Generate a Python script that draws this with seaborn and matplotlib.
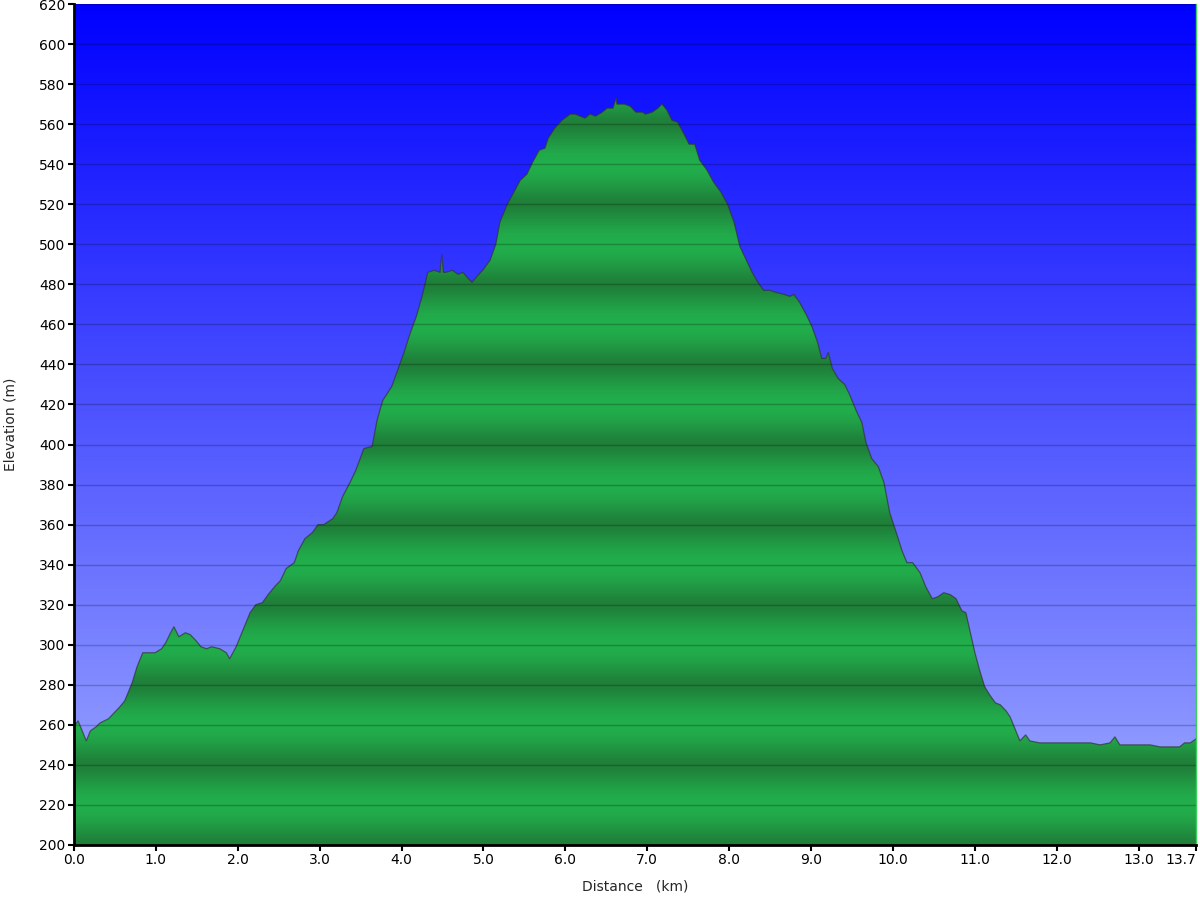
import numpy as np
import pandas as pd
import matplotlib
matplotlib.use("Agg")
import matplotlib.pyplot as plt
from matplotlib.colors import LinearSegmentedColormap
import seaborn as sns

# distance along the track (km) and elevation (m), read from the profile
distance = [0.00, 0.05, 0.15, 0.20, 0.27, 0.32, 0.42, 0.56, 0.62, 0.71, 0.77, 0.84, 0.93, 0.99,
            1.07, 1.12, 1.18, 1.22, 1.28, 1.36, 1.42, 1.49, 1.55, 1.62, 1.68, 1.78, 1.86, 1.90, 1.98,
            2.06, 2.15, 2.22, 2.30, 2.37, 2.45, 2.52, 2.59, 2.69, 2.74, 2.82, 2.91, 2.98,
            3.05, 3.16, 3.21, 3.28, 3.37, 3.44, 3.54, 3.64, 3.70, 3.77, 3.88, 3.96,
            4.03, 4.10, 4.18, 4.25, 4.32, 4.40, 4.47, 4.49, 4.51, 4.54, 4.62, 4.69, 4.75, 4.79, 4.86, 4.92, 4.99,
            5.08, 5.15, 5.20, 5.29, 5.37, 5.45, 5.53, 5.60, 5.68, 5.75, 5.79, 5.87, 5.96,
            6.06, 6.12, 6.18, 6.24, 6.30, 6.37, 6.45, 6.51, 6.58, 6.62, 6.63, 6.64, 6.72, 6.79, 6.86, 6.94, 6.98,
            7.06, 7.13, 7.18, 7.24, 7.30, 7.37, 7.45, 7.51, 7.58, 7.64, 7.73, 7.81, 7.90, 7.98,
            8.06, 8.13, 8.21, 8.28, 8.35, 8.42, 8.50, 8.57, 8.67, 8.74, 8.79, 8.86, 8.94,
            9.01, 9.08, 9.13, 9.18, 9.21, 9.26, 9.33, 9.41, 9.47, 9.55, 9.62, 9.67, 9.74, 9.82, 9.89, 9.96,
            10.04, 10.11, 10.17, 10.24, 10.33, 10.40, 10.48, 10.55, 10.62, 10.70, 10.77, 10.84, 10.89, 10.94,
            11.00, 11.06, 11.12, 11.18, 11.25, 11.31, 11.38, 11.43, 11.49, 11.55, 11.62, 11.67, 11.79, 11.92,
            12.04, 12.16, 12.28, 12.41, 12.53, 12.65, 12.71, 12.77, 12.89,
            13.02, 13.14, 13.26, 13.38, 13.50, 13.56, 13.63, 13.70]
elevation = [259, 262, 252, 257, 259, 261, 263, 269, 272, 281, 289, 296, 296, 296,
             298, 301, 306, 309, 304, 306, 305, 302, 299, 298, 299, 298, 296, 293, 299,
             307, 316, 320, 321, 325, 329, 332, 338, 341, 347, 353, 356, 360,
             360, 363, 366, 374, 381, 387, 398, 399, 412, 422, 429, 438,
             446, 455, 464, 474, 486, 487, 486, 495, 486, 486, 487, 485, 486, 484, 481, 484, 487,
             492, 500, 511, 520, 526, 532, 535, 541, 547, 548, 553, 558, 562,
             565, 565, 564, 563, 565, 564, 566, 568, 568, 573, 570, 570, 570, 569, 566, 566, 565,
             566, 568, 570, 567, 562, 561, 555, 550, 550, 542, 537, 531, 526, 520,
             511, 499, 492, 486, 481, 477, 477, 476, 475, 474, 475, 471, 465,
             459, 451, 443, 443, 446, 438, 433, 430, 425, 417, 411, 401, 393, 389, 381, 366,
             356, 347, 341, 341, 336, 329, 323, 324, 326, 325, 323, 317, 316, 307,
             296, 287, 279, 275, 271, 270, 267, 264, 258, 252, 255, 252, 251, 251,
             251, 251, 251, 251, 250, 251, 254, 250, 250,
             250, 250, 249, 249, 249, 251, 251, 253]

x_ticks = [0, 1, 2, 3, 4, 5, 6, 7, 8, 9, 10, 11, 12, 13, 13.7]
x_labels = ['0.0', '1.0', '2.0', '3.0', '4.0', '5.0', '6.0', '7.0', '8.0', '9.0',
            '10.0', '11.0', '12.0', '13.0', '13.7']
y_ticks = list(range(200, 621, 20))

df = pd.DataFrame({'Distance': distance, 'Elevation': elevation})

sns.set_style("ticks")
plt.rcParams['font.family'] = ['DejaVu Sans']

fig = plt.figure(figsize=(12, 9), dpi=100)
ax = fig.add_axes([74 / 1200, 55 / 900, 1122 / 1200, 841 / 900])

x0, x1 = 0, 13.7
y0, y1 = 200, 620

# sky gradient behind the profile
sky = LinearSegmentedColormap.from_list('sky', [(160 / 255, 172 / 255, 1.0), (0, 0, 1.0)])
grad = np.linspace(0, 1, 512).reshape(-1, 1)
ax.imshow(grad, extent=[x0, x1, y0, y1], origin='lower', aspect='auto',
          cmap=sky, zorder=0, interpolation='bilinear')

# banded green fill, one band every 40 m
lev = np.linspace(y0, y1, 1681)
t = ((lev - 200) % 40) / 40.0
b = 0.5 - 0.5 * np.cos(2 * np.pi * t)
b = b ** 0.7
dark = np.array([31, 126, 57]) / 255
light = np.array([34, 174, 76]) / 255
band = dark[None, :] + (light - dark)[None, :] * b[:, None]
band_img = np.repeat(band[:, None, :], 2, axis=1)
img = ax.imshow(band_img, extent=[x0, x1, y0, y1], origin='lower', aspect='auto',
                zorder=1, interpolation='bilinear')
poly = ax.fill_between(df['Distance'], df['Elevation'], y0, facecolor='none', edgecolor='none')
img.set_clip_path(poly.get_paths()[0], transform=ax.transData)

sns.lineplot(data=df, x='Distance', y='Elevation', ax=ax, color='#333333',
             alpha=0.7, linewidth=0.9, zorder=2)

ax.set_xlim(x0, x1)
ax.set_ylim(y0, y1)
ax.set_xticks(x_ticks)
ax.set_xticklabels(x_labels)
ax.set_yticks(y_ticks)
ax.get_xticklabels()[-1].set_horizontalalignment('right')

ax.set_axisbelow(False)
ax.grid(axis='y', color='black', alpha=0.22, linewidth=1.0)
ax.grid(axis='x', visible=False)

ax.tick_params(axis='both', direction='out', length=4, width=1.5, color='black',
               labelsize=10, pad=2, labelcolor='black')

for s in ['left', 'bottom']:
    ax.spines[s].set_linewidth(2)
    ax.spines[s].set_color('black')
ax.spines['top'].set_visible(False)
ax.spines['right'].set_color('#3ccf5a')
ax.spines['right'].set_linewidth(1)

ax.set_xlabel('Distance   (km)', fontsize=10, labelpad=9)
ax.set_ylabel('Elevation (m)', fontsize=10, labelpad=16)

fig.savefig('out.png', dpi=100)
